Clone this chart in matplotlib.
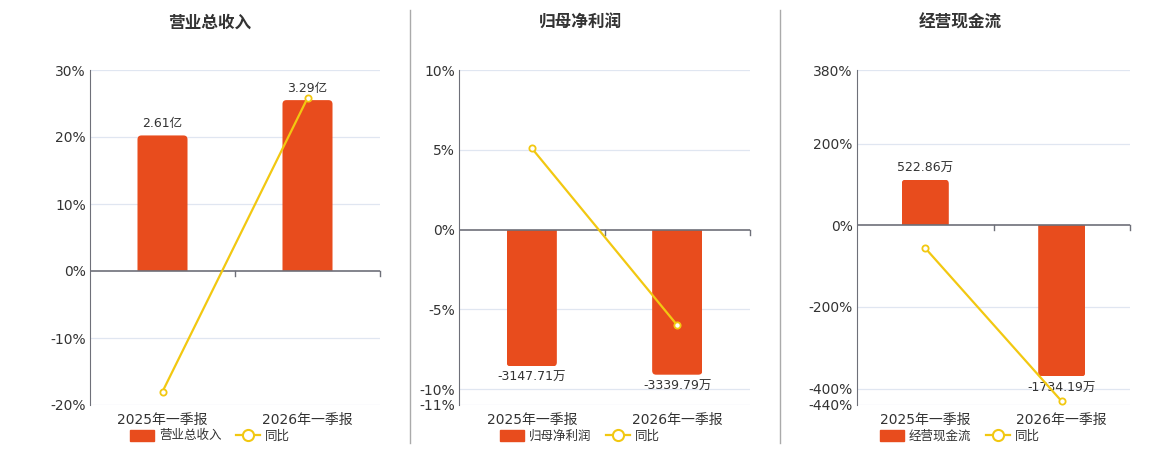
import matplotlib
matplotlib.use("Agg")
import matplotlib.pyplot as plt
from matplotlib.patches import FancyBboxPatch, Patch
from matplotlib.lines import Line2D

plt.rcParams["font.family"] = ["DejaVu Sans", "Noto Sans CJK SC"]

# data
categories = ["2025年一季报", "2026年一季报"]

titles = ["营业总收入", "归母净利润", "经营现金流"]
bar_names = ["营业总收入", "归母净利润", "经营现金流"]

revenue = [2.61, 3.29]            # 亿
net_profit = [-3147.71, -3339.79]  # 万
cash_flow = [522.86, -1734.19]     # 万
bar_values = [revenue, net_profit, cash_flow]
bar_labels = [["2.61亿", "3.29亿"],
              ["-3147.71万", "-3339.79万"],
              ["522.86万", "-1734.19万"]]

yoy_revenue = [-18.0, 25.8]
yoy_profit = [5.1, -6.0]
yoy_cash = [-56.0, -431.0]
yoy_values = [yoy_revenue, yoy_profit, yoy_cash]

pct_ticks = [[30, 20, 10, 0, -10, -20],
             [10, 5, 0, -5, -10, -11],
             [380, 200, 0, -200, -400, -440]]

# hidden bar axis ranges (zero aligned with percent axis)
bar_limits = [(-2.58, 3.87), (-4037, 3670), (-2062, 1781)]

# layout in pixels
W, H = 1160, 450
axes_px = [(90, 380), (459, 750), (857, 1130)]
centers_px = [210, 580, 960]
ax_top, ax_bot = 70, 405

BAR = "#e84c1d"
LINE = "#f2c811"
AXIS = "#6e7079"
GRID = "#e0e6f1"
TXT = "#333333"

fig = plt.figure(figsize=(W / 100, H / 100), dpi=100)

for sep in (410, 780):
    fig.add_artist(Line2D([sep / W, sep / W], [1 - 10 / H, 1 - 443 / H],
                          color="#aaaaaa", lw=1, transform=fig.transFigure))

for i in range(3):
    x0, x1 = axes_px[i]
    rect = [x0 / W, 1 - ax_bot / H, (x1 - x0) / W, (ax_bot - ax_top) / H]
    ticks = pct_ticks[i]
    lo, hi = min(ticks), max(ticks)

    ax = fig.add_axes(rect)
    ax.set_xlim(-0.5, 1.5)
    ax.set_ylim(lo, hi)
    ax.set_yticks(ticks)
    ax.set_yticklabels([f"{t}%" for t in ticks])
    ax.tick_params(axis="y", length=0, labelsize=10, labelcolor=TXT, pad=3)
    ax.set_xticks([0, 1])
    ax.set_xticklabels(categories)
    ax.tick_params(axis="x", length=0, labelsize=10, labelcolor=TXT, pad=6)
    for t in ticks:
        if t != 0:
            ax.axhline(t, color=GRID, lw=0.9, zorder=0)
    for s in ["top", "right", "bottom"]:
        ax.spines[s].set_visible(False)
    ax.spines["left"].set_color(AXIS)

    # bars on their own hidden axis
    bx = fig.add_axes(rect, sharex=ax)
    bx.set_ylim(*bar_limits[i])
    bx.axis("off")
    bx.patch.set_visible(False)
    bars = bx.bar([0, 1], bar_values[i], width=0.345, color=BAR)
    xpp = (bx.get_xlim()[1] - bx.get_xlim()[0]) / (x1 - x0)
    ypp = (bar_limits[i][1] - bar_limits[i][0]) / (ax_bot - ax_top)
    r = 4 * xpp
    ext = 10 * ypp
    for b, v, lab in zip(bars, bar_values[i], bar_labels[i]):
        bx0, bw = b.get_x(), b.get_width()
        b.set_alpha(0)
        # rounded only at the far end: extend past zero and clip to the bar
        if v >= 0:
            bot, top = -ext, v
        else:
            bot, top = v, ext
        p = FancyBboxPatch((bx0, bot), bw, top - bot,
                           boxstyle=f"round,pad=0,rounding_size={r}",
                           mutation_aspect=ypp / xpp, color=BAR, lw=0)
        bx.add_patch(p)
        p.set_clip_path(b)
        off = 5 * ypp
        if v >= 0:
            bx.text(bx0 + bw / 2, v + off, lab, ha="center", va="bottom",
                    fontsize=9, color=TXT)
        else:
            bx.text(bx0 + bw / 2, v - off, lab, ha="center", va="top",
                    fontsize=9, color=TXT)

    # line on top
    lx = fig.add_axes(rect, sharex=ax)
    lx.set_ylim(lo, hi)
    lx.axis("off")
    lx.patch.set_visible(False)
    lx.axhline(0, color=AXIS, lw=1.2)
    for xt in (0.5, 1.5):
        lx.plot([xt, xt], [0, -5 * (hi - lo) / (ax_bot - ax_top)],
                color=AXIS, lw=1, clip_on=False)
    lx.plot([0, 1], yoy_values[i], color=LINE, lw=1.6, marker="o",
            markersize=4.5, markerfacecolor="white", markeredgecolor=LINE,
            markeredgewidth=1.3, clip_on=False)

    fig.text(centers_px[i] / W, 1 - 23 / H, titles[i], ha="center", va="center",
             fontsize=12, fontweight="bold", color=TXT)

    handles = [Patch(facecolor=BAR, edgecolor=BAR, label=bar_names[i]),
               Line2D([], [], color=LINE, lw=1.6, marker="o", markersize=8,
                      markerfacecolor="white", markeredgewidth=1.5, label="同比")]
    fig.legend(handles=handles, loc="center", ncol=2, frameon=False,
               bbox_to_anchor=(centers_px[i] / W, 1 - 436 / H),
               fontsize=9, handlelength=1.9, handleheight=0.95,
               columnspacing=1.2, handletextpad=0.4, labelcolor=TXT)

fig.savefig("out.png", dpi=100)
